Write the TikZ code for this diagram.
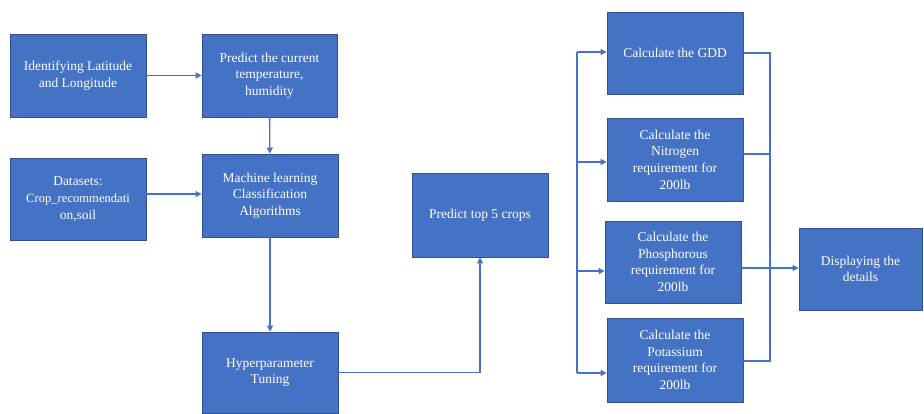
\documentclass[tikz,border=0pt]{standalone}
\usepackage{fontspec}
\setmainfont{Liberation Serif}
\usetikzlibrary{arrows.meta,calc}
\definecolor{boxblue}{HTML}{4472C4}
\definecolor{boxedge}{HTML}{2F528F}
\definecolor{linkblue}{HTML}{4472C4}
\tikzset{
  box/.style={rectangle, fill=boxblue, draw=boxedge, line width=0.8pt,
    text=white, align=center, inner sep=2pt,
    font=\fontsize{13.5}{16.7}\selectfont},
  link/.style={draw=linkblue, line width=1.4pt},
  arr/.style={link, -{Triangle[length=6pt,width=6pt]}}
}
\begin{document}
\begin{tikzpicture}[x=1pt,y=-1pt]
\useasboundingbox (0,0) rectangle (924,414);
% left column
\node[box, minimum width=136pt, minimum height=83pt] (b1) at (78,75.5) {Identifying Latitude\\and Longitude};
\node[box, minimum width=135pt, minimum height=83pt] (b2) at (269.5,75.5) {Predict the current\\temperature,\\humidity};
\node[box, minimum width=136pt, minimum height=82pt, text width=130pt] (b3) at (78,199) {Datasets:\\{\fontsize{12.6}{16.7}\selectfont Crop\_recommendati}\\on,soil};
\node[box, minimum width=136pt, minimum height=83pt] (b4) at (270,195.5) {Machine learning\\Classification\\Algorithms};
\node[box, minimum width=136pt, minimum height=81pt] (b5) at (270,372.5) {Hyperparameter\\Tuning};
\node[box, minimum width=136pt, minimum height=84pt] (b6) at (480,215) {Predict top 5 crops};
% right column
\node[box, minimum width=136pt, minimum height=82pt] (gdd) at (675,53) {Calculate the GDD};
\node[box, minimum width=136pt, minimum height=83pt] (nit) at (675,159.5) {Calculate the\\Nitrogen\\requirement for\\200lb};
\node[box, minimum width=136pt, minimum height=82pt] (pho) at (673,262) {Calculate the\\Phosphorous\\requirement for\\200lb};
\node[box, minimum width=136pt, minimum height=84pt] (pot) at (675,360) {Calculate the\\Potassium\\requirement for\\200lb};
\node[box, minimum width=123pt, minimum height=82pt] (disp) at (860.5,269) {Displaying the\\details};
% connectors left part
\draw[arr] (b1) -- (b2);
\draw[arr] (b2) -- (b4);
\draw[arr] (b3.east |- 0,194) -- (b4.west |- 0,194);
\draw[arr] (b4) -- (b5);
\draw[arr] (b5.east) -| (b6.south);
% distribution line
\coordinate (l1) at (577,52);
\coordinate (l2) at (577,162);
\coordinate (l3) at (577,271);
\coordinate (l4) at (577,373);
\draw[link] (l1) -- (l4);
\draw[arr] (l1) -- (gdd.west |- l1);
\draw[arr] (l2) -- (nit.west |- l2);
\draw[arr] (l3) -- (pho.west |- l3);
\draw[arr] (l4) -- (pot.west |- l4);
% collecting line
\coordinate (r1) at (770,53);
\coordinate (r2) at (770,154);
\coordinate (r4) at (770,361);
\draw[link] (gdd.east |- r1) -- (r1) -- (r4) -- (pot.east |- r4);
\draw[link] (nit.east |- r2) -- (r2);
\draw[arr] (pho.east |- 0,268) -- (disp.west |- 0,268);
\end{tikzpicture}
\end{document}
